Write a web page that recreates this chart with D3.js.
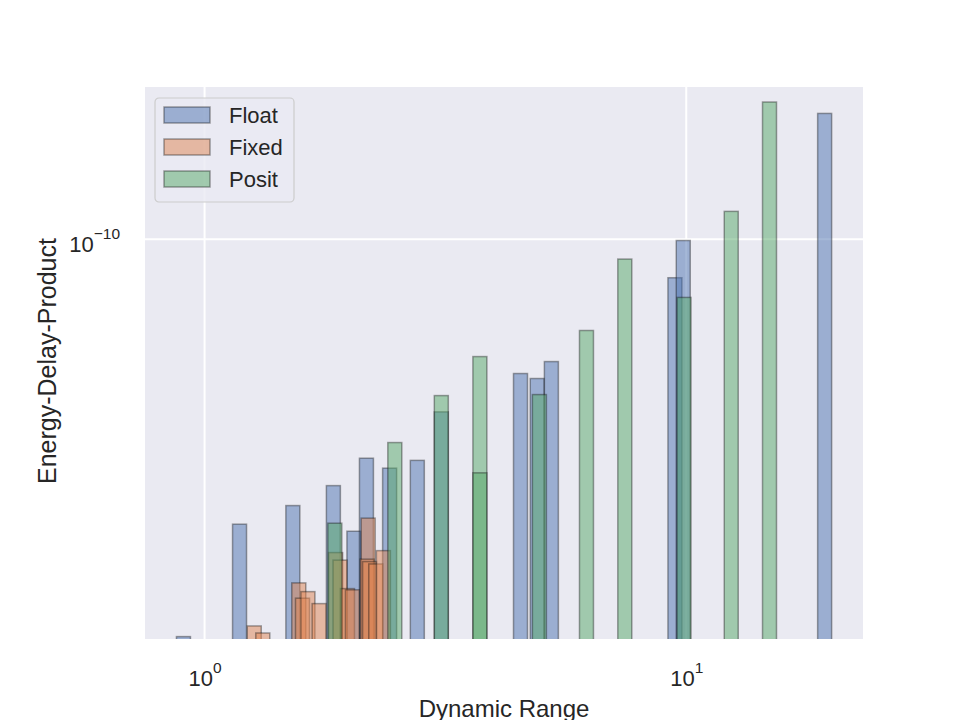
<!DOCTYPE html>
<html>
<head>
<meta charset="utf-8">
<script src="https://cdn.jsdelivr.net/npm/d3@7"></script>
<style>
  body { margin: 0; background: #fff; }
  text { font-family: "Liberation Sans", Arial, sans-serif; fill: #262626; }
</style>
</head>
<body>
<div id="wrapper"></div>
<script>
const FLOAT_COLOR = "#4c72b0";
const FIXED_COLOR = "#dd8452";
const POSIT_COLOR = "#55a868";
const GRID_COLOR = "#ffffff";
const BG_COLOR = "#eaeaf2";

// dynamic range (x) and energy-delay-product (y) per format
const floatRange = [0.904, 1.182, 1.525, 1.851, 2.042, 2.168, 2.422, 2.765, 3.101, 4.528, 4.905, 5.248, 9.474, 9.858, 19.38];
const floatEdp = [1.488e-11, 2.551e-11, 2.789e-11, 3.069e-11, 2.466e-11, 3.500e-11, 3.337e-11, 3.464e-11, 4.371e-11, 5.253e-11, 5.129e-11, 5.563e-11, 8.315e-11, 9.94e-11, 1.828e-10];

const fixedRange = [1.268, 1.321, 1.569, 1.597, 1.639, 1.729, 1.871, 1.911, 1.980, 2.027, 2.186, 2.175, 2.201, 2.267, 2.351];
const fixedEdp = [1.566e-11, 1.514e-11, 1.925e-11, 1.789e-11, 1.846e-11, 1.743e-11, 2.226e-11, 2.147e-11, 1.873e-11, 1.862e-11, 2.626e-11, 2.157e-11, 2.132e-11, 2.108e-11, 2.247e-11];

const positRange = [1.864, 2.483, 3.101, 3.729, 3.729, 4.956, 6.207, 7.455, 9.895, 12.40, 14.89];
const positEdp = [2.563e-11, 3.773e-11, 4.726e-11, 5.698e-11, 3.263e-11, 4.749e-11, 6.457e-11, 9.094e-11, 7.566e-11, 1.143e-10, 1.931e-10];

const xLimits = [0.7522, 23.28];
const yLimits = [1.471e-11, 2.075e-10];
const xTicks = [1, 10];
const yTicks = [1e-10];

const seriesNames = ["Float", "Fixed", "Posit"];

function drawChart() {
  const series = [
    { name: "Float", color: FLOAT_COLOR, xs: floatRange, ys: floatEdp },
    { name: "Fixed", color: FIXED_COLOR, xs: fixedRange, ys: fixedEdp },
    { name: "Posit", color: POSIT_COLOR, xs: positRange, ys: positEdp },
  ];

  let dimensions = {
    width: 960,
    height: 720,
    margin: { top: 87, right: 97, bottom: 81, left: 145 },
  };
  dimensions.boundedWidth = dimensions.width - dimensions.margin.left - dimensions.margin.right;
  dimensions.boundedHeight = dimensions.height - dimensions.margin.top - dimensions.margin.bottom;

  const wrapper = d3.select("#wrapper")
    .append("svg")
    .attr("width", dimensions.width)
    .attr("height", dimensions.height);

  const bounds = wrapper.append("g")
    .attr("transform", `translate(${dimensions.margin.left},${dimensions.margin.top})`);

  bounds.append("rect")
    .attr("width", dimensions.boundedWidth)
    .attr("height", dimensions.boundedHeight)
    .attr("fill", BG_COLOR);

  bounds.append("clipPath")
    .attr("id", "plot-clip")
    .append("rect")
    .attr("width", dimensions.boundedWidth)
    .attr("height", dimensions.boundedHeight);

  const xScale = d3.scaleLog()
    .domain(xLimits)
    .range([0, dimensions.boundedWidth]);

  const yScale = d3.scaleLog()
    .domain(yLimits)
    .range([dimensions.boundedHeight, 0]);

  // grid
  bounds.append("g").selectAll("line")
    .data(xTicks)
    .enter().append("line")
    .attr("x1", d => xScale(d))
    .attr("x2", d => xScale(d))
    .attr("y1", 0)
    .attr("y2", dimensions.boundedHeight)
    .attr("stroke", GRID_COLOR)
    .attr("stroke-width", 2);

  bounds.append("g").selectAll("line")
    .data(yTicks)
    .enter().append("line")
    .attr("x1", 0)
    .attr("x2", dimensions.boundedWidth)
    .attr("y1", d => yScale(d))
    .attr("y2", d => yScale(d))
    .attr("stroke", GRID_COLOR)
    .attr("stroke-width", 2);

  // bars, constant pixel width on the log axis
  const barWidth = 14;
  const barsGroup = bounds.append("g").attr("clip-path", "url(#plot-clip)");
  series.forEach(s => {
    const points = s.xs.map((x, i) => ({ x: x, y: s.ys[i] }));
    barsGroup.append("g").selectAll("rect")
      .data(points)
      .enter().append("rect")
      .attr("x", d => xScale(d.x) - barWidth / 2)
      .attr("y", d => yScale(d.y))
      .attr("width", barWidth)
      .attr("height", d => dimensions.boundedHeight - yScale(d.y) + 5)
      .attr("fill", s.color)
      .attr("fill-opacity", 0.5)
      .attr("stroke", "#111")
      .attr("stroke-opacity", 0.38)
      .attr("stroke-width", 1.5);
  });

  // axes
  const xAxis = bounds.append("g")
    .attr("transform", `translate(0,${dimensions.boundedHeight})`)
    .call(d3.axisBottom(xScale).tickValues(xTicks).tickSize(0).tickFormat(""));
  xAxis.select(".domain").remove();
  xAxis.selectAll(".tick").each(function(d) {
    const t = d3.select(this).append("text")
      .attr("y", 47)
      .attr("text-anchor", "middle")
      .style("font-size", "22px");
    t.append("tspan").text("10");
    t.append("tspan").attr("dy", -13).style("font-size", "15.5px").text(Math.round(Math.log10(d)));
  });

  const yAxis = bounds.append("g")
    .call(d3.axisLeft(yScale).tickValues(yTicks).tickSize(0).tickFormat(""));
  yAxis.select(".domain").remove();
  yAxis.selectAll(".tick").each(function(d) {
    const t = d3.select(this).append("text")
      .attr("x", -25)
      .attr("y", 12)
      .attr("text-anchor", "end")
      .style("font-size", "22px");
    t.append("tspan").text("10");
    t.append("tspan").attr("dy", -13).style("font-size", "15.5px")
      .text("\u2212" + Math.abs(Math.round(Math.log10(d))));
  });

  wrapper.append("text")
    .attr("x", dimensions.margin.left + dimensions.boundedWidth / 2)
    .attr("y", 717)
    .attr("text-anchor", "middle")
    .style("font-size", "24px")
    .text("Dynamic Range");

  wrapper.append("text")
    .attr("transform", `translate(56,${dimensions.margin.top + dimensions.boundedHeight / 2 - 2}) rotate(-90)`)
    .attr("text-anchor", "middle")
    .style("font-size", "25px")
    .text("Energy-Delay-Product");

  // legend
  const legend = bounds.append("g")
    .attr("transform", "translate(10,11)");
  legend.append("rect")
    .attr("width", 139)
    .attr("height", 104)
    .attr("rx", 4)
    .attr("fill", BG_COLOR)
    .attr("fill-opacity", 0.8)
    .attr("stroke", "#cccccc")
    .attr("stroke-width", 1.2);
  const items = legend.selectAll("g.item")
    .data(series)
    .enter().append("g")
    .attr("class", "item")
    .attr("transform", (d, i) => `translate(9,${9 + i * 32})`);
  items.append("rect")
    .attr("width", 46)
    .attr("height", 16)
    .attr("fill", d => d.color)
    .attr("fill-opacity", 0.5)
    .attr("stroke", "#111")
    .attr("stroke-opacity", 0.38)
    .attr("stroke-width", 1.5);
  items.append("text")
    .attr("x", 65)
    .attr("y", 16)
    .style("font-size", "22px")
    .text((d, i) => seriesNames[i]);
}

drawChart();
</script>
</body>
</html>
